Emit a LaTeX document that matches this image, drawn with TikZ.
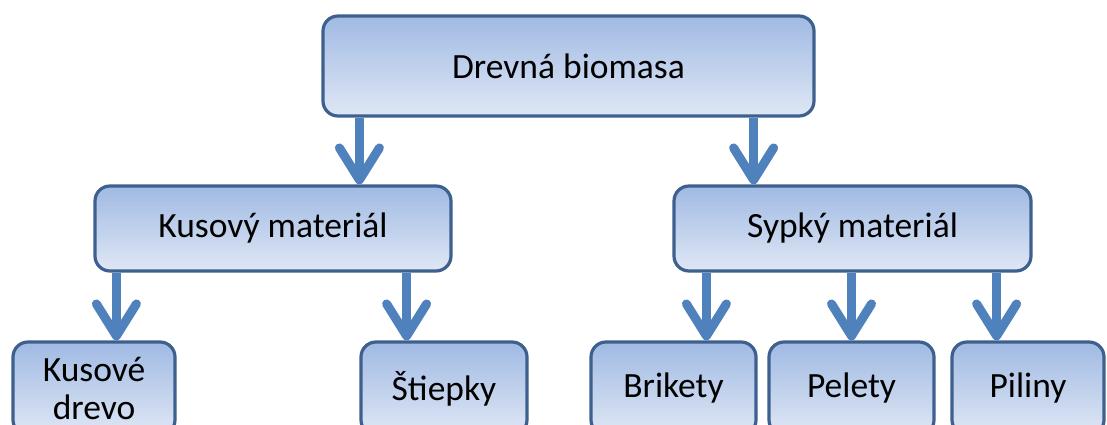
\documentclass[tikz,border=0pt]{standalone}
\usepackage{fontspec}
\setmainfont{Carlito}
\usetikzlibrary{arrows.meta}

\definecolor{boxline}{RGB}{62,96,142}
\definecolor{boxtop}{RGB}{160,186,227}
\definecolor{boxbottom}{RGB}{223,231,245}
\definecolor{arrowblue}{RGB}{79,129,189}

\tikzset{
  catbox/.style={rectangle, rounded corners=15pt, draw=boxline, line width=3.2pt,
    top color=boxtop, bottom color=boxbottom, inner sep=0pt, align=center,
    font=\fontsize{35.5}{38}\selectfont, text=black},
  flow/.style={draw=arrowblue, line width=9pt,
    -{Straight Barb[length=32pt, width=40pt, round]}},
}

\begin{document}
\begin{tikzpicture}[x=1pt, y=-1pt]
  \useasboundingbox (0,0) rectangle (1107,425);
  \clip (0,0) rectangle (1107,425);

  % top level
  \node[catbox, minimum width=491pt, minimum height=100pt] (root) at (568.5,66) {Drevná biomasa};

  % second level
  \node[catbox, minimum width=356pt, minimum height=85pt] (kus) at (273,228.5) {Kusový materiál};
  \node[catbox, minimum width=357pt, minimum height=85pt] (syp) at (852.5,228.5) {Sypký materiál};

  % third level (runs past the lower edge)
  \node[catbox, minimum width=162pt, minimum height=93pt] (drevo) at (94,388.5) {Kusové\\drevo};
  \node[catbox, minimum width=166pt, minimum height=93pt] (stiep) at (444,388.5) {Štiepky};
  \node[catbox, minimum width=165pt, minimum height=93pt] (brik) at (673.5,388.5) {Brikety};
  \node[catbox, minimum width=165pt, minimum height=93pt] (pel) at (851.5,388.5) {Pelety};
  \node[catbox, minimum width=152pt, minimum height=93pt] (pil) at (1028,388.5) {Piliny};

  % connectors
  \draw[flow] ([xshift=38pt]root.south west) -- ([xshift=38pt]root.south west |- kus.north);
  \draw[flow] ([xshift=-62pt]root.south east) -- ([xshift=-62pt]root.south east |- syp.north);

  \draw[flow] ([xshift=23pt]kus.south west) -- ([xshift=23pt]kus.south west |- drevo.north);
  \draw[flow] ([xshift=-46pt]kus.south east) -- ([xshift=-46pt]kus.south east |- stiep.north);

  \draw[flow] ([xshift=34pt]syp.south west) -- ([xshift=34pt]syp.south west |- brik.north);
  \draw[flow] (syp.south -| pel.north) -- (pel.north);
  \draw[flow] ([xshift=-36pt]syp.south east) -- ([xshift=-36pt]syp.south east |- pil.north);
\end{tikzpicture}
\end{document}
